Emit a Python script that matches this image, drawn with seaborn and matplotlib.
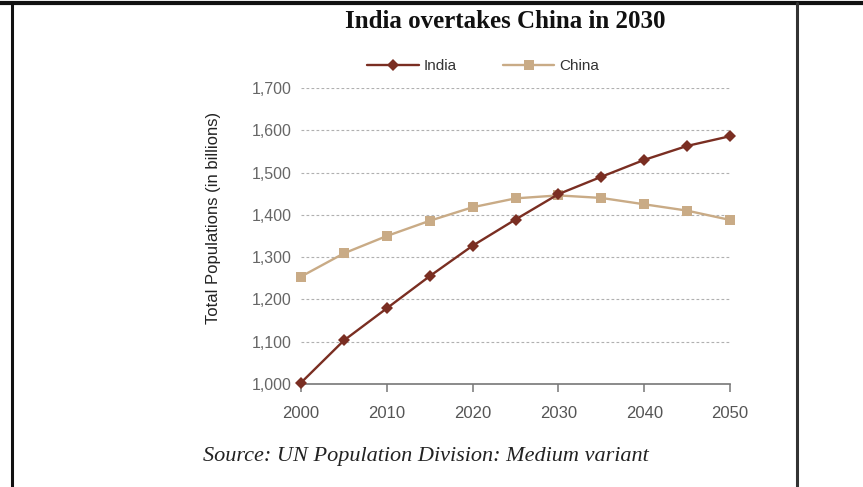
import matplotlib
matplotlib.use("Agg")
import matplotlib.pyplot as plt
from matplotlib.lines import Line2D
import seaborn as sns
import pandas as pd

# values (millions)
years = [2000, 2005, 2010, 2015, 2020, 2025, 2030, 2035, 2040, 2045, 2050]
india = [1003, 1103, 1179, 1255, 1327, 1389, 1449, 1490, 1530, 1563, 1586]
china = [1254, 1309, 1350, 1386, 1418, 1439, 1446, 1440, 1425, 1410, 1388]
y_ticks = [1000, 1100, 1200, 1300, 1400, 1500, 1600, 1700]
x_ticks = [2000, 2010, 2020, 2030, 2040, 2050]

df = pd.DataFrame({"year": years * 2,
                   "pop": india + china,
                   "country": ["India"] * len(years) + ["China"] * len(years)})

sns.set_style("white")
plt.rcParams["font.family"] = ["Liberation Sans", "DejaVu Sans"]

fig = plt.figure(figsize=(8.63, 4.87), dpi=100)
ax = fig.add_axes([301 / 863, 1 - 384 / 487, 429 / 863, 296 / 487])

india_col = "#7a2e22"
china_col = "#c9ab86"
sns.lineplot(data=df, x="year", y="pop", hue="country", style="country",
             palette={"India": india_col, "China": china_col},
             markers={"India": "D", "China": "s"}, dashes=False,
             markersize=7.5, linewidth=1.7, markeredgewidth=0,
             hue_order=["China", "India"], legend=False, ax=ax, clip_on=False)
# India marker a bit smaller
for ln in ax.lines:
    if ln.get_color() == india_col:
        ln.set_markersize(6)
        ln.set_zorder(4)

ax.set_xlim(2000, 2050)
ax.set_ylim(1000, 1700)
ax.set_xticks(x_ticks)
ax.set_yticks(y_ticks)
ax.set_yticklabels([f"{v:,}" for v in y_ticks])
ax.set_xlabel("")
ax.set_ylabel("Total Populations (in billions)", fontsize=12, color="#222222")
ax.yaxis.set_label_coords(-80 / 429, 0.56)

for v in y_ticks[1:]:
    ax.axhline(v, color="#b0b0b0", linestyle=(0, (2.5, 2)), linewidth=0.8, zorder=0)

for s in ["top", "right", "left"]:
    ax.spines[s].set_visible(False)
ax.spines["bottom"].set_color("#777777")
ax.spines["bottom"].set_linewidth(1.2)
ax.tick_params(axis="x", direction="out", length=6, width=1.1, color="#777777",
               labelsize=12, labelcolor="#555555", pad=10, bottom=True)
ax.tick_params(axis="y", length=0, labelsize=11.5, labelcolor="#666666", pad=7)

fig.text(505 / 863, 1 - 22 / 487, "India overtakes China in 2030", ha="center", va="center",
         fontsize=18, fontweight="bold", family="Liberation Serif", color="#111111")
fig.text(203 / 863, 1 - 456 / 487, "Source: UN Population Division: Medium variant",
         ha="left", va="center", fontsize=16, style="italic", family="Liberation Serif",
         color="#222222")

handles = [Line2D([], [], color=india_col, marker="D", markersize=6, linewidth=1.7, markeredgewidth=0),
           Line2D([], [], color=china_col, marker="s", markersize=7.5, linewidth=1.7, markeredgewidth=0)]
fig.legend(handles, ["India", "China"], loc="center", bbox_to_anchor=(483 / 863, 1 - 66 / 487),
           ncol=2, frameon=False, fontsize=11, handlelength=3.4, columnspacing=3.0,
           handletextpad=0.3, labelcolor="#333333")

# screenshot frame
fig.add_artist(Line2D([0, 1], [1 - 3 / 487, 1 - 3 / 487], color="#111111", linewidth=3))
fig.add_artist(Line2D([12 / 863, 12 / 863], [0, 1 - 3 / 487], color="#111111", linewidth=2.2))
fig.add_artist(Line2D([797 / 863, 797 / 863], [0, 1 - 3 / 487], color="#333333", linewidth=2.2))

fig.savefig("out.png", dpi=100)
